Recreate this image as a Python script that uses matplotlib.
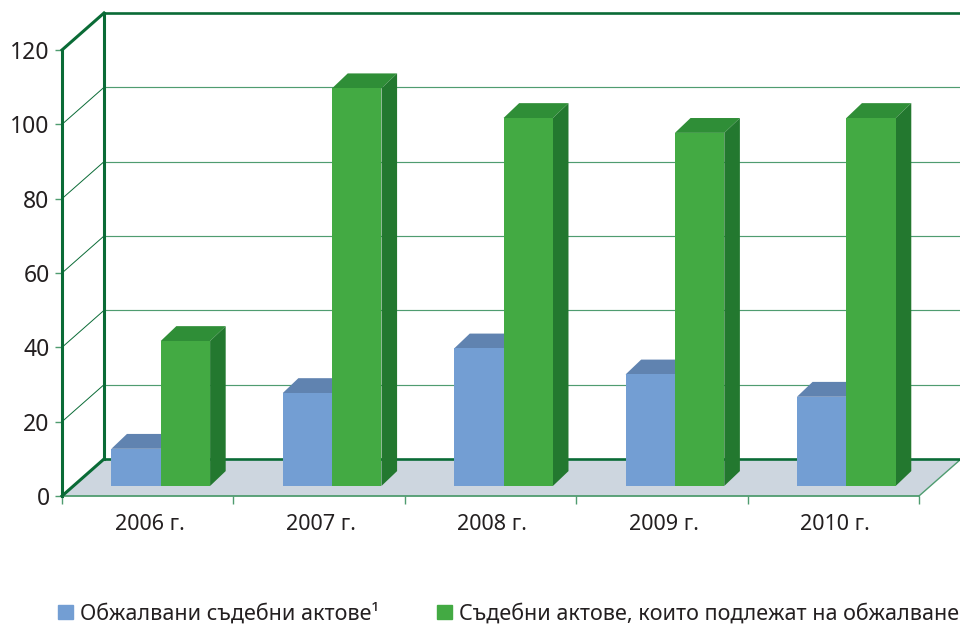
import matplotlib
matplotlib.use('Agg')
import matplotlib.pyplot as plt
from matplotlib.patches import Polygon, Patch

years = ['2006 г.', '2007 г.', '2008 г.', '2009 г.', '2010 г.']
appealed = [10, 25, 37, 30, 24]
subject = [39, 107, 99, 95, 99]
name_appealed = 'Обжалвани съдебни актове¹'
name_subject = 'Съдебни актове, които подлежат на обжалване'
y_ticks = [0, 20, 40, 60, 80, 100, 120]

plt.rcParams['font.family'] = ['Noto Sans', 'DejaVu Sans']
text_color = '#231f20'
dark_green = '#0a6b36'
thin_green = '#4f9c70'

fig = plt.figure(figsize=(9.6, 6.27), dpi=100)
ax = fig.add_axes([62 / 960, (627 - 496) / 627, 857 / 960, 446 / 627])
ax.set_xlim(0, 5)
ax.set_ylim(0, 120)
ax.patch.set_alpha(0)

# 3d look: everything is shifted by these depths, in data units
wall_dx = 0.245
wall_dy = 9.95
base_dx = 0.076
base_dy = 2.7
bar_dx = 0.091
bar_dy = 4.0
bar_w = 0.288

# floor
ax.add_patch(Polygon([(0, 0), (5, 0), (5 + wall_dx, wall_dy), (wall_dx, wall_dy)],
                     closed=True, fc='#cdd6df', ec='none', zorder=1, clip_on=False))
ax.plot([5, 5 + wall_dx], [0, wall_dy], color=thin_green, lw=1, zorder=2, clip_on=False)

# grid on the back wall and the left wall
for v in y_ticks[1:-1]:
    ax.plot([wall_dx, 5 + wall_dx], [v + wall_dy, v + wall_dy], color=thin_green, lw=0.85, zorder=2, clip_on=False)
    ax.plot([0, wall_dx], [v, v + wall_dy], color=dark_green, lw=0.7, zorder=2, clip_on=False)

# heavy frame
ax.plot([wall_dx, 5 + wall_dx], [120 + wall_dy, 120 + wall_dy], color=dark_green, lw=1.9, zorder=3, clip_on=False)
ax.plot([wall_dx, 5 + wall_dx], [wall_dy, wall_dy], color=dark_green, lw=1.9, zorder=3, clip_on=False)
ax.plot([wall_dx, wall_dx], [wall_dy, 120 + wall_dy], color=dark_green, lw=2.2, zorder=3, clip_on=False)
ax.plot([0, wall_dx], [120, 120 + wall_dy], color=dark_green, lw=2.2, zorder=3, clip_on=False)
ax.plot([0, wall_dx], [0, wall_dy], color=dark_green, lw=2.2, zorder=3, clip_on=False)


def draw_bar(left, value, front, top, side, z):
    x0 = left + base_dx
    x1 = x0 + bar_w
    y1 = value + base_dy
    ax.add_patch(Polygon([(x0, y1), (x1, y1), (x1 + bar_dx, y1 + bar_dy), (x0 + bar_dx, y1 + bar_dy)],
                         closed=True, fc=top, ec='none', zorder=z, clip_on=False))
    ax.add_patch(Polygon([(x1, base_dy), (x1 + bar_dx, base_dy + bar_dy), (x1 + bar_dx, y1 + bar_dy), (x1, y1)],
                         closed=True, fc=side, ec='none', zorder=z, clip_on=False))
    ax.bar(x0, value, width=bar_w, bottom=base_dy, align='edge', color=front, zorder=z + 0.5, clip_on=False)


for i in range(len(years)):
    mid = i + 0.5
    draw_bar(mid - bar_w, appealed[i], '#739ed3', '#6083b0', '#55779f', 4 + i)
    draw_bar(mid, subject[i], '#43aa43', '#2f8e37', '#23782f', 4.7 + i)

for name in ['top', 'right']:
    ax.spines[name].set_visible(False)
ax.spines['left'].set_color(dark_green)
ax.spines['left'].set_linewidth(2.2)
ax.spines['bottom'].set_color(thin_green)
ax.spines['bottom'].set_linewidth(1.3)

ax.set_yticks(y_ticks)
ax.tick_params(axis='y', length=5, width=1, color=thin_green, pad=4, labelsize=16.5, labelcolor=text_color)
ax.set_xticks(range(6))
ax.set_xticklabels([])
ax.tick_params(axis='x', which='major', length=5.5, width=1, color=thin_green)
ax.set_xticks([i + 0.51 for i in range(5)], minor=True)
ax.set_xticklabels(years, minor=True)
ax.tick_params(axis='x', which='minor', length=0, pad=13, labelsize=15.5, labelcolor=text_color)

handles = [Patch(color='#739ed3', label=name_appealed), Patch(color='#43aa43', label=name_subject)]
fig.legend(handles=handles, loc='lower left', bbox_to_anchor=(51.4 / 960, -4 / 627), ncol=2, frameon=False,
           fontsize=15.5, labelcolor=text_color, handlelength=0.69, handleheight=0.69,
           handletextpad=0.32, columnspacing=2.72, borderpad=0.3, borderaxespad=0)

fig.savefig('out.png', dpi=100)
